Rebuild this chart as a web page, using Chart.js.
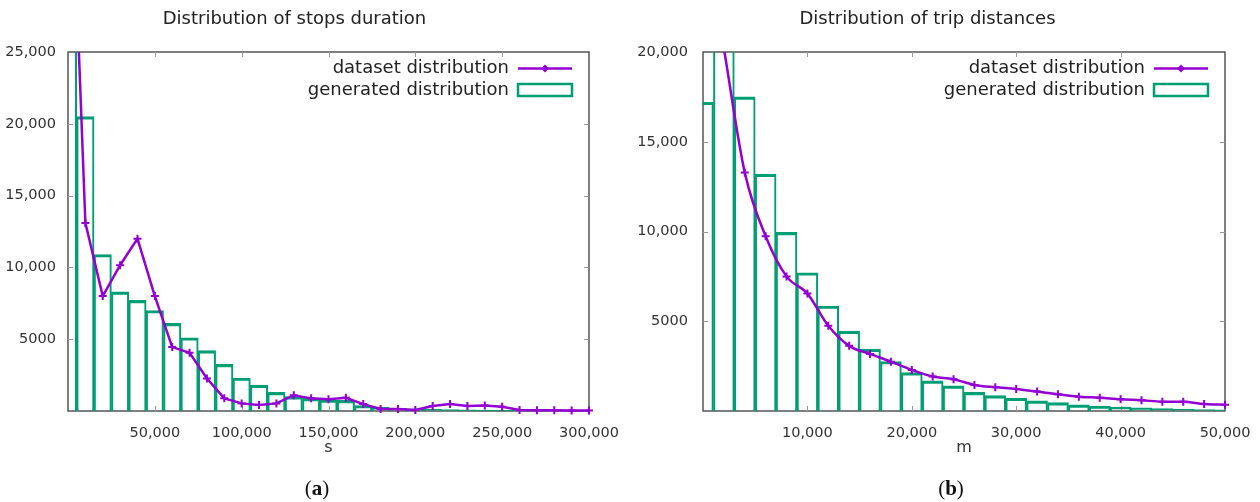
<!DOCTYPE html>
<html><head><meta charset="utf-8">
<script src="https://cdn.jsdelivr.net/npm/chart.js@4.4.1/dist/chart.umd.min.js"></script>
<style>
html,body{margin:0;padding:0;background:#fff;width:1260px;height:502px;overflow:hidden;}
.wrap{position:absolute;top:0;width:630px;height:502px;}
.cap{position:absolute;top:475px;font-family:"Liberation Serif",serif;font-size:21px;line-height:26px;color:#111;transform:translateX(-50%);white-space:nowrap;}
</style></head><body>
<div class="wrap" style="left:0"><canvas id="c1" width="630" height="502"></canvas></div>
<div class="wrap" style="left:630px"><canvas id="c2" width="630" height="502"></canvas></div>
<div class="cap" style="left:317px">(<b>a</b>)</div>
<div class="cap" style="left:951px">(<b>b</b>)</div>
<script>
// ---------- Chart (a): stops duration ----------
const stopsBins = [0,10000,20000,30000,40000,50000,60000,70000,80000,90000,100000,110000,120000,130000,140000,150000,160000,170000,180000,190000,200000,210000,220000,230000,240000,250000,260000,270000,280000,290000,300000];
const stopsGenerated = [32000,20500,10900,8300,7700,7000,6100,5100,4200,3250,2300,1800,1300,1000,880,780,740,380,250,180,150,120,100,80,60,50,40,30,20,15,10];
const stopsDataset = [45000,13100,8000,10150,12000,8000,4450,4050,2260,880,530,420,530,1100,880,810,920,480,140,140,70,350,480,350,390,300,70,50,50,30,30];
const stopsXTickLabels = ['', '50,000', '100,000', '150,000', '200,000', '250,000', '300,000'];
const stopsYTickLabels = ['', '5000', '10,000', '15,000', '20,000', '25,000'];

// ---------- Chart (b): trip distances ----------
const tripBins = [0,2000,4000,6000,8000,10000,12000,14000,16000,18000,20000,22000,24000,26000,28000,30000,32000,34000,36000,38000,40000,42000,44000,46000,48000,50000];
const tripGenerated = [17200,20300,17500,13200,9950,7700,5850,4450,3450,2760,2140,1680,1400,1040,860,710,560,470,340,280,220,180,140,110,80,60];
const tripDatasetX = [2000,4000,6000,8000,10000,12000,14000,16000,18000,20000,22000,24000,26000,28000,30000,32000,34000,36000,38000,40000,42000,44000,46000,48000,50000];
const tripDataset = [20200,13280,9740,7500,6540,4750,3630,3180,2750,2290,1920,1770,1450,1320,1230,1080,930,800,740,650,600,520,520,390,350];
const tripXTickLabels = ['', '10,000', '20,000', '30,000', '40,000', '50,000'];
const tripYTickLabels = ['', '5000', '10,000', '15,000', '20,000'];

const FONT = "'DejaVu Sans', sans-serif";
const PURPLE = '#9400d3';
const GREEN = '#009e73';

const framePlugin = {
  id: 'frame',
  beforeDatasetsDraw(chart) {
    const {ctx, chartArea: a, scales: {x, y}} = chart;
    ctx.save();
    ctx.strokeStyle = '#555';
    ctx.lineWidth = 1.5;
    ctx.strokeRect(a.left, a.top, a.right - a.left, a.bottom - a.top);
    ctx.strokeStyle = '#999';
    ctx.lineWidth = 1;
    ctx.beginPath();
    x.ticks.forEach(t => {
      const px = Math.round(x.getPixelForValue(t.value)) + 0.5;
      if (px <= a.left + 2 || px >= a.right - 2) return;
      ctx.moveTo(px, a.bottom); ctx.lineTo(px, a.bottom - 5);
      ctx.moveTo(px, a.top); ctx.lineTo(px, a.top + 5);
    });
    y.ticks.forEach(t => {
      const py = Math.round(y.getPixelForValue(t.value)) + 0.5;
      if (py <= a.top + 2 || py >= a.bottom - 2) return;
      ctx.moveTo(a.left, py); ctx.lineTo(a.left + 5, py);
      ctx.moveTo(a.right, py); ctx.lineTo(a.right - 5, py);
    });
    ctx.stroke();
    ctx.restore();
  }
};

const legendPlugin = {
  id: 'insideLegend',
  afterDraw(chart) {
    const {ctx, chartArea: a} = chart;
    const ds = chart.data.datasets;
    ctx.save();
    ctx.font = '18px ' + FONT;
    ctx.fillStyle = '#222';
    ctx.textAlign = 'right';
    ctx.textBaseline = 'middle';
    const tx = a.right - 80, s0 = a.right - 71, s1 = a.right - 17;
    const y1 = a.top + 16.5, y2 = a.top + 38;
    ctx.fillText(ds[0].label, tx, y1);
    ctx.fillText(ds[1].label, tx, y2);
    ctx.strokeStyle = ds[0].borderColor;
    ctx.lineWidth = 2.5;
    ctx.beginPath(); ctx.moveTo(s0, y1); ctx.lineTo(s1, y1); ctx.stroke();
    const cx = (s0 + s1) / 2;
    ctx.fillStyle = ds[0].borderColor;
    ctx.beginPath();
    ctx.moveTo(cx, y1 - 4); ctx.lineTo(cx + 4, y1); ctx.lineTo(cx, y1 + 4); ctx.lineTo(cx - 4, y1); ctx.closePath();
    ctx.fill();
    ctx.strokeStyle = ds[1].borderColor;
    ctx.lineWidth = 2.5;
    ctx.strokeRect(s0, y2 - 6, s1 - s0, 12);
    ctx.restore();
  }
};

function makeChart(id, o) {
  return new Chart(document.getElementById(id), {
    type: 'bar',
    data: {
      datasets: [
        {
          type: 'line', label: 'dataset distribution',
          data: o.lineX.map((x, i) => ({x: x, y: o.lineY[i]})),
          borderColor: PURPLE, backgroundColor: PURPLE, borderWidth: 2.5,
          pointStyle: 'cross', pointRadius: 4, pointBorderWidth: 2, pointHoverRadius: 4,
          tension: 0, cubicInterpolationMode: o.interp,
          order: 0, clip: {left: 6, right: 6, top: 0, bottom: 6}
        },
        {
          type: 'bar', label: 'generated distribution',
          data: o.bins.map((x, i) => ({x: x, y: o.gen[i]})),
          backgroundColor: 'rgba(0,0,0,0)', borderColor: GREEN,
          borderWidth: {top: 2.5, left: 1.4, right: 1.4, bottom: 0}, borderSkipped: false,
          barPercentage: 1, categoryPercentage: 1, grouped: false,
          order: 1, clip: 0
        }
      ]
    },
    options: {
      responsive: false, animation: false, devicePixelRatio: 1,
      layout: {padding: {left: 0, right: o.padRight, top: 0, bottom: 45}},
      plugins: {
        legend: {display: false}, tooltip: {enabled: false},
        title: {display: true, text: o.title, color: '#222',
          font: {family: FONT, size: 18, weight: 'normal', lineHeight: 1.2},
          padding: {top: 9, bottom: 21.4}}
      },
      scales: {
        x: {
          type: 'linear', min: 0, max: o.xMax, offset: false,
          grid: {display: false}, border: {display: false},
          ticks: {stepSize: o.xStep, autoSkip: false, maxRotation: 0, padding: 6, color: '#333',
            font: {family: FONT, size: 14.5, lineHeight: 1.2},
            callback: (v, i) => o.xLabels[i] ?? ''},
          title: {display: true, text: o.xTitle, color: '#333',
            font: {family: FONT, size: 16, lineHeight: 1.2}, padding: {top: 0, bottom: 0}},
          afterFit: s => { s.height = 46; }
        },
        y: {
          type: 'linear', min: 0, max: o.yMax,
          grid: {display: false}, border: {display: false},
          ticks: {stepSize: 5000, autoSkip: false, padding: o.yPad, color: '#333',
            font: {family: FONT, size: 14.5, lineHeight: 1.2},
            callback: (v, i) => o.yLabels[i] ?? ''},
          afterFit: s => { s.width = o.yWidth; }
        }
      }
    },
    plugins: [framePlugin, legendPlugin]
  });
}

makeChart('c1', {
  title: 'Distribution of stops duration', xTitle: 's',
  bins: stopsBins, gen: stopsGenerated, lineX: stopsBins, lineY: stopsDataset,
  xMax: 300000, xStep: 50000, yMax: 25000,
  xLabels: stopsXTickLabels, yLabels: stopsYTickLabels,
  interp: 'default', yWidth: 68, yPad: 4, padRight: 41
});
makeChart('c2', {
  title: 'Distribution of trip distances', xTitle: 'm',
  bins: tripBins, gen: tripGenerated, lineX: tripDatasetX, lineY: tripDataset,
  xMax: 50000, xStep: 10000, yMax: 20000,
  xLabels: tripXTickLabels, yLabels: tripYTickLabels,
  interp: 'monotone', yWidth: 73, yPad: 7, padRight: 35
});
</script>
</body></html>
